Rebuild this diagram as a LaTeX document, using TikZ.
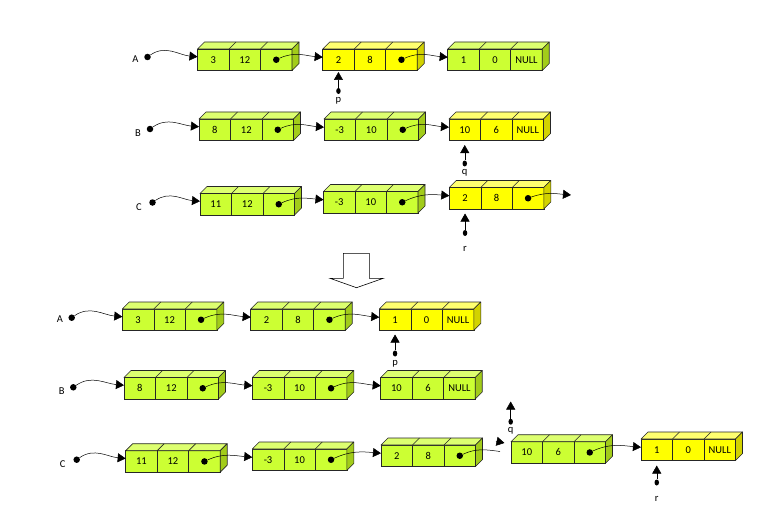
\documentclass[tikz,border=0pt]{standalone}
\usepackage{fontspec}
\setmainfont{Carlito}
\usetikzlibrary{arrows.meta,shapes.geometric}
\definecolor{gfront}{HTML}{CCFF33}
\definecolor{gtop}{HTML}{DDFF70}
\definecolor{gside}{HTML}{A2CC1A}
\definecolor{yfront}{HTML}{FFFF00}
\definecolor{ytop}{HTML}{FFFF70}
\definecolor{yside}{HTML}{D2D200}
\newcommand\llnode[7]{%
  \node[cell,fill=#4front,anchor=north west] (#1a) at (#2,#3) {#5};
  \node[cell,fill=#4front,anchor=west] (#1b) at (#1a.east) {#6};
  \node[cell,fill=#4front,anchor=west] (#1c) at (#1b.east) {#7};
  \filldraw[face,fill=#4top] (#1a.north west) -- ++(7,-7) -- ([shift={(7,-7)}]#1c.north east) -- (#1c.north east) -- cycle;
  \filldraw[face,fill=#4side] (#1c.north east) -- ++(7,-7) -- ([shift={(7,-7)}]#1c.south east) -- (#1c.south east) -- cycle;
  \draw[face] (#1a.north east) -- ++(7,-7) (#1b.north east) -- ++(7,-7);
}
\newcommand\ptrdot[1]{\node[dot] (#1d) at (#1c.center) {};}
\newcommand\lnk[2]{\draw[ptr] (#1d) to[out=25,in=175] ([yshift=2.5pt]#2a.west);}
\begin{document}
\begin{tikzpicture}[x=1pt,y=-1pt,
  cell/.style={draw=black!85, line width=0.6pt, minimum width=31.5pt, minimum height=21.5pt,
    inner sep=0pt, outer sep=0pt, font=\fontsize{10.5}{10.5}\selectfont},
  face/.style={draw=black!85, line width=0.6pt, line join=round},
  dot/.style={circle, fill=black, inner sep=0pt, minimum size=6.5pt},
  sdot/.style={ellipse, fill=black, inner sep=0pt, minimum width=4.5pt, minimum height=6pt},
  ptr/.style={-{Triangle[length=8pt,width=9pt]}, line width=0.5pt, black},
  lbl/.style={font=\fontsize{10.5}{10.5}\selectfont, inner sep=0pt}]
\useasboundingbox (0,0) rectangle (761,511);
% ---------- top ----------
\llnode{TAA}{197.5}{49}{g}{3}{12}{}
\llnode{TAB}{322.7}{49}{y}{2}{8}{}
\llnode{TAC}{447.7}{49}{g}{1}{0}{NULL}
\llnode{TBA}{199}{119}{g}{8}{12}{}
\llnode{TBB}{324}{119}{g}{-3}{10}{}
\llnode{TBC}{449}{119}{y}{10}{6}{NULL}
\llnode{TCA}{200}{193.5}{g}{11}{12}{}
\llnode{TCB}{323.5}{191.5}{g}{-3}{10}{}
\llnode{TCC}{449.3}{187.5}{y}{2}{8}{}
\foreach \n in {TAA,TAB,TBA,TBB,TCA,TCB,TCC}{\ptrdot{\n}}
\node[lbl] (tA) at (135.5,59) {A};
\node[lbl] (tB) at (138,133) {B};
\node[lbl] (tC) at (139,207) {C};
\node[dot] (tAd) at (147.5,57) {};
\node[dot] (tBd) at (150,129) {};
\node[dot] (tCd) at (152.5,202.5) {};
\draw[ptr] (tAd) to[out=35,in=175] ([yshift=3pt]TAAa.west);
\draw[ptr] (tBd) to[out=35,in=175] ([yshift=3pt]TBAa.west);
\draw[ptr] (tCd) to[out=35,in=175] ([yshift=3pt]TCAa.west);
\lnk{TAA}{TAB}\lnk{TAB}{TAC}
\lnk{TBA}{TBB}\lnk{TBB}{TBC}
\lnk{TCA}{TCB}\lnk{TCB}{TCC}
\coordinate (tfree) at (571,195);
\draw[ptr] (TCCd) to[out=20,in=175] (tfree);
% p q r top
\node[sdot] (tpd) at ([yshift=-20.5pt]TABa.south) {};
\draw[ptr] (tpd) -- ([yshift=-1.5pt]TABa.south);
\node[lbl] (tp) at ([yshift=-9.5pt]tpd) {p};
\node[sdot] (tqd) at ([yshift=-23pt]TBCa.south) {};
\draw[ptr] (tqd) -- ([yshift=-4.5pt]TBCa.south);
\node[lbl] (tq) at ([yshift=-9.5pt]tqd) {q};
\node[sdot] (trd) at ([yshift=-24pt]TCCa.south) {};
\draw[ptr] (trd) -- ([yshift=-4.5pt]TCCa.south);
\node[lbl] (tr) at ([yshift=-16pt]trd) {r};
% big arrow
\draw[line width=0.6pt, fill=white, line join=miter] (343.3,253.3) -- (369.3,253.3) -- (369.3,278.3) -- (383.3,278.3) -- (356.5,287.7) -- (330,278.3) -- (343.3,278.3) -- cycle;
% ---------- bottom ----------
\llnode{BAA}{122.3}{309}{g}{3}{12}{}
\llnode{BAB}{250.7}{309}{g}{2}{8}{}
\llnode{BAC}{379.3}{309}{y}{1}{0}{NULL}
\llnode{BBA}{124}{377.5}{g}{8}{12}{}
\llnode{BBB}{252.3}{377.5}{g}{-3}{10}{}
\llnode{BBC}{380.7}{377.5}{g}{10}{6}{NULL}
\llnode{BCA}{125.7}{450.7}{g}{11}{12}{}
\llnode{BCB}{252.3}{449}{g}{-3}{10}{}
\llnode{BCC}{381}{445}{g}{2}{8}{}
\llnode{BCD}{511}{441.7}{g}{10}{6}{}
\llnode{BCE}{641}{439}{y}{1}{0}{NULL}
\foreach \n in {BAA,BAB,BBA,BBB,BCA,BCB,BCC,BCD}{\ptrdot{\n}}
\node[lbl] (bA) at (60,319) {A};
\node[lbl] (bB) at (61.7,391) {B};
\node[lbl] (bC) at (62.7,464) {C};
\node[dot] (bAd) at (71.7,317.7) {};
\node[dot] (bBd) at (73.3,387.3) {};
\node[dot] (bCd) at (76.7,459.7) {};
\draw[ptr] (bAd) to[out=35,in=175] ([yshift=3pt]BAAa.west);
\draw[ptr] (bBd) to[out=35,in=175] ([yshift=3pt]BBAa.west);
\draw[ptr] (bCd) to[out=35,in=175] ([yshift=3pt]BCAa.west);
\lnk{BAA}{BAB}\lnk{BAB}{BAC}
\lnk{BBA}{BBB}\lnk{BBB}{BBC}
\lnk{BCA}{BCB}\lnk{BCB}{BCC}
\lnk{BCD}{BCE}
\coordinate (brk) at (500,451.5);
\draw[line width=0.5pt] (BCCd) to[out=25,in=172] (brk);
\coordinate (brka) at (496,441.2);
\coordinate (brkb) at (504.5,443);
\draw[ptr] (brka) -- (brkb);
% p q r bottom
\node[sdot] (bpd) at ([yshift=-23pt]BACa.south) {};
\draw[ptr] (bpd) -- ([yshift=-4pt]BACa.south);
\node[lbl] (bp) at ([yshift=-10.5pt]bpd) {p};
\node[sdot] (bqd) at (510.7,421.7) {};
\coordinate (bqfree) at (510.7,401.5);
\draw[ptr] (bqd) -- (bqfree);
\node[lbl] (bq) at ([yshift=-9.5pt]bqd) {q};
\node[sdot] (brd) at ([yshift=-22pt]BCEa.south) {};
\draw[ptr] (brd) -- ([yshift=-5pt]BCEa.south);
\node[lbl] (br) at ([yshift=-16.5pt]brd) {r};
\end{tikzpicture}
\end{document}
